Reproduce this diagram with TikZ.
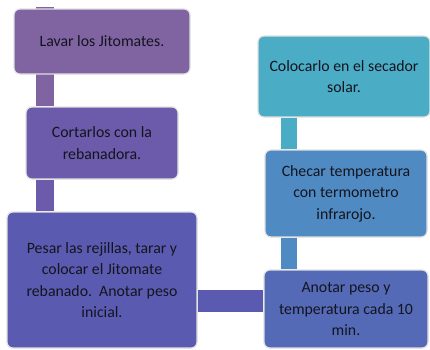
\documentclass[tikz,border=0pt]{standalone}
\usepackage{fontspec}
\setmainfont{Carlito}
\usepackage{tikz}
\usetikzlibrary{positioning,backgrounds}
\usepackage{xcolor}
\definecolor{stpurple}{RGB}{128,100,162}
\definecolor{stviolet}{RGB}{107,91,170}
\definecolor{stindigo}{RGB}{90,91,176}
\definecolor{stslate}{RGB}{84,106,182}
\definecolor{ststeel}{RGB}{79,139,194}
\definecolor{stcyan}{RGB}{75,172,198}
\definecolor{sttext}{RGB}{20,20,30}
\tikzstyle{stepbox} = [rectangle, rounded corners=6pt, draw=white!88!black, line width=1.2pt,
  text=sttext, align=center, font=\fontsize{15.8}{21.5}\selectfont, inner sep=0pt]
\tikzstyle{bar} = [line width=18pt]

\begin{document}
\begin{tikzpicture}[x=1pt,y=-1pt]
\useasboundingbox (0,0) rectangle (430,349);

% Boxes
\node[stepbox, fill=stpurple, minimum width=176pt, minimum height=65pt] (lavar) at (102,41.5) {Lavar los Jitomates.};
\node[stepbox, fill=stviolet, minimum width=152pt, minimum height=72pt] (cortar) at (102,143) {Cortarlos con la\\rebanadora.};
\node[stepbox, fill=stindigo, minimum width=190pt, minimum height=136pt] (pesar) at (102,280) {Pesar las rejillas, tarar y\\colocar el Jitomate\\rebanado.\ \ Anotar peso\\inicial.};
\node[stepbox, fill=stslate, minimum width=164pt, minimum height=78pt] (anotar) at (346,309) {Anotar peso y\\temperatura cada 10\\min.};
\node[stepbox, fill=ststeel, minimum width=162pt, minimum height=87pt] (checar) at (346,193.5) {Checar temperatura\\con termometro\\infrarojo.};
\node[stepbox, fill=stcyan, minimum width=172pt, minimum height=81pt] (colocar) at (344,76.5) {Colocarlo en el secador\\solar.};

% Connectors
\begin{scope}[on background layer]
\draw[bar, stpurple] ([xshift=32pt,yshift=1pt]lavar.north west) -- ([xshift=20pt]cortar.north west);
\draw[bar, stviolet] ([xshift=20pt]cortar.south west) -- ([xshift=39pt]pesar.north west);
\draw[bar, stindigo, line width=22pt] ([yshift=-21pt]pesar.east) -- ([yshift=8pt]anotar.west);
\draw[bar, stcyan, line width=16pt] ([xshift=32pt]colocar.south west) -- ([xshift=25pt]checar.north west);
\draw[bar, ststeel, line width=16pt] ([xshift=25pt]checar.south west) -- ([xshift=26pt]anotar.north west);
\end{scope}
\end{tikzpicture}
\end{document}
